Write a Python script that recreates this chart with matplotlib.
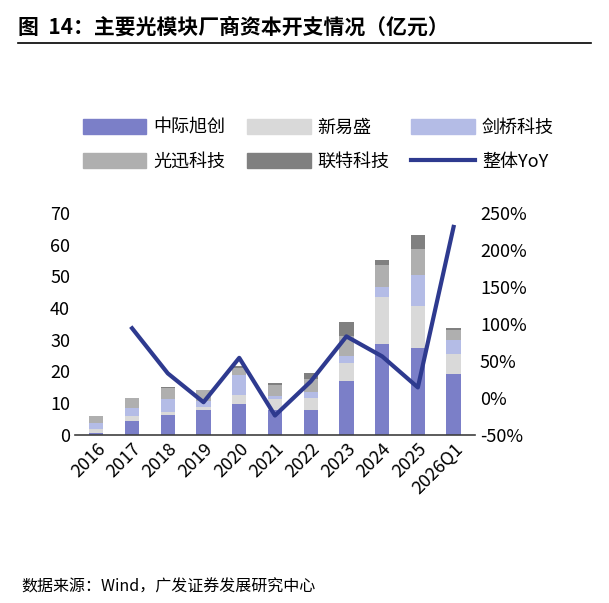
import numpy as np
import matplotlib.pyplot as plt
from matplotlib.lines import Line2D

plt.rcParams['font.family'] = ['Noto Sans CJK SC', 'DejaVu Sans']

years = ["2016", "2017", "2018", "2019", "2020", "2021", "2022", "2023", "2024", "2025", "2026Q1"]
zhongji = [0.5, 4.2, 6.1, 7.7, 9.6, 7.9, 7.9, 16.9, 28.6, 27.5, 19.3]
xinyisheng = [1.3, 1.6, 1.0, 1.0, 3.0, 3.5, 3.8, 5.8, 14.9, 13.2, 6.3]
jianqiao = [1.9, 2.6, 4.2, 1.8, 6.1, 0.9, 1.8, 2.0, 3.0, 9.7, 4.4]
guangxun = [2.3, 3.2, 3.3, 3.5, 2.4, 3.5, 4.1, 6.6, 7.1, 8.2, 2.9]
lianter = [0.0, 0.0, 0.6, 0.2, 0.5, 0.5, 1.9, 4.2, 1.5, 4.5, 0.7]
yoy = [np.nan, 94, 33, -6, 54, -24, 22, 83, 56, 14, 231]

series = [("中际旭创", zhongji, "#7B7FC8"), ("新易盛", xinyisheng, "#D9D9D9"),
          ("剑桥科技", jianqiao, "#B4BCE6"), ("光迅科技", guangxun, "#AFAFAF"),
          ("联特科技", lianter, "#808080")]
line_color = "#2E3A8F"

fig = plt.figure(figsize=(6.09, 6.03), dpi=100)
ax = fig.add_axes([0.123, 0.279, 0.657, 0.368])
x = np.arange(len(years))
bottom = np.zeros(len(years))
for name, vals, c in series:
    ax.bar(x, vals, 0.4, bottom=bottom, color=c, label=name)
    bottom += np.array(vals)
ax.set_ylim(0, 70)
ax.set_yticks(range(0, 71, 10))
ax.set_xlim(-0.6, len(years) - 0.4)
ax.set_xticks(x)
ax.set_xticklabels(years, rotation=45, ha="right", rotation_mode="anchor")
for s in ["top", "right", "left"]:
    ax.spines[s].set_visible(False)
ax.spines["bottom"].set_color("#404040")
ax.spines["bottom"].set_linewidth(1.2)
ax.tick_params(axis="y", length=0, labelsize=13)
ax.tick_params(axis="x", length=0, labelsize=13)

ax2 = ax.twinx()
ax2.plot(x, yoy, color=line_color, linewidth=3)
ax2.set_ylim(-50, 250)
ax2.set_yticks(range(-50, 251, 50))
ax2.set_yticklabels([f"{v}%" for v in range(-50, 251, 50)])
for s in ["top", "right", "left", "bottom"]:
    ax2.spines[s].set_visible(False)
ax2.tick_params(axis="y", length=0, labelsize=13)

handles = [plt.Rectangle((0, 0), 1, 1, color=c) for _, _, c in series]
handles.append(Line2D([0], [0], color=line_color, linewidth=3))
labels = [n for n, _, _ in series] + ["整体YoY"]
order = [0, 3, 1, 4, 2, 5]
fig.legend([handles[i] for i in order], [labels[i] for i in order],
           loc="upper left", bbox_to_anchor=(0.11, 0.83), ncol=3,
           frameon=False, fontsize=13, handlelength=3.5, handleheight=0.9,
           columnspacing=1.2, handletextpad=0.4, labelspacing=0.9)

fig.text(0.03, 0.955, "图  14：主要光模块厂商资本开支情况（亿元）", fontsize=15, fontweight="bold", va="center")
fig.add_artist(Line2D([0.03, 0.97], [0.928, 0.928], color="black", linewidth=1.2))
fig.text(0.035, 0.027, "数据来源：Wind，广发证券发展研究中心", fontsize=11.5, va="center")

fig.savefig("out.png", dpi=100)
